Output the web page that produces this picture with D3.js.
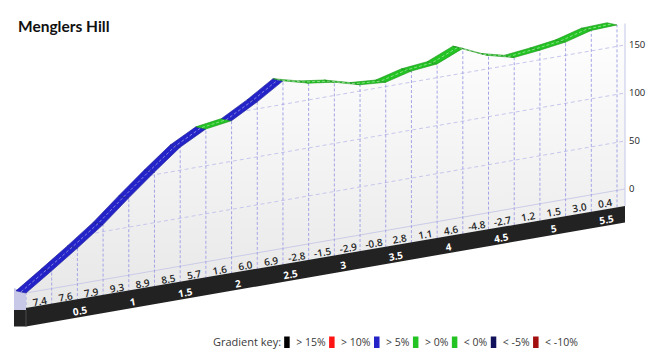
<!DOCTYPE html>
<html>
<head>
<meta charset="utf-8">
<script src="https://cdn.jsdelivr.net/npm/d3@7"></script>
<style>
  body { margin: 0; background: #fff; }
  svg { display: block; }
</style>
</head>
<body>
<svg id="chart" width="662" height="362"></svg>
<script>
// Menglers Hill climb profile: 250 m segments, gradient (%) per segment.
var segLength = 0.25;
var gradients = [7.4, 7.6, 7.9, 9.3, 8.9, 8.5, 5.7, 1.6, 6.0, 6.9, -2.8, -1.5,
                 -2.9, -0.8, 2.8, 1.1, 4.6, -4.8, -2.7, 1.2, 1.5, 3.0, 0.4];
// Elevation (m) at each segment boundary
var elevations = [0, 18.5, 37.5, 57.3, 80.5, 102.8, 124, 138.3, 142.3, 157.3, 174.5, 167.5,
                  163.8, 156.5, 154.5, 161.5, 164.3, 175.8, 163.8, 157, 160, 163.8, 171.3, 172.3];
var distTicks = [0.5, 1, 1.5, 2, 2.5, 3, 3.5, 4, 4.5, 5, 5.5];
var elevTicks = [0, 50, 100, 150];
var keyLabels = ["> 15%", "> 10%", "> 5%", "> 0%", "< 0%", "< -5%", "< -10%"];
var keyColors = ["#000000", "#ff1414", "#2323c8", "#22c322", "#22c322", "#12125c", "#a30f0f"];

var svg = d3.select("#chart");
var totalDist = gradients.length * segLength;

// The chart is drawn in a sheared "3D" view: the floor rises to the right.
var x = d3.scaleLinear().domain([0, totalDist]).range([26, 617]);
var xFront = d3.scaleLinear().domain([0, totalDist]).range([27.3, 632.8]);
var base = d3.scaleLinear().domain([26, 625]).range([293, 189]); // y of 0 m along the floor
var h = d3.scaleLinear().domain([0, 150]).range([0, 144]);
var wallRight = 625, stripH = 17, barH = 16.5;
var depth = [-10, -2.2];
var angle = Math.atan2(base(625) - base(26), 625 - 26) * 180 / Math.PI;

function colorOf(g) {
	if (g > 15) return keyColors[0];
	if (g > 10) return keyColors[1];
	if (g > 5) return keyColors[2];
	if (g >= 0) return keyColors[3];
	if (g > -5) return keyColors[4];
	if (g > -10) return keyColors[5];
	return keyColors[6];
}

function toPoints(arr) {
	return arr.map(function(p) { return p.join(","); }).join(" ");
}

// Profile points on the wall:
var pts = elevations.map(function(e, i) {
	var px = x(i * segLength);
	return [px, base(px) - h(e)];
});
var endElev = elevations[elevations.length - 1];

var defs = svg.append("defs");
var grad = defs.append("linearGradient")
	.attr("id", "wallFill")
	.attr("gradientUnits", "userSpaceOnUse")
	.attr("x1", 0).attr("y1", 20).attr("x2", 0).attr("y2", 320);
grad.append("stop").attr("offset", 0).attr("stop-color", "#ffffff");
grad.append("stop").attr("offset", 1).attr("stop-color", "#e6e6e6");

// Wall polygon (under the profile, down to the top of the black bar)
var wallPts = pts.slice();
wallPts.push([wallRight, base(wallRight) - h(endElev)]);
wallPts.push([wallRight, base(wallRight) + stripH]);
wallPts.push([26, base(26) + stripH]);

defs.append("clipPath").attr("id", "wallClip")
	.append("polygon")
	.attr("points", toPoints(wallPts));

svg.append("polygon")
	.attr("points", toPoints(wallPts))
	.attr("fill", "url(#wallFill)");

// Horizontal (skewed) elevation gridlines:
svg.append("g").attr("clip-path", "url(#wallClip)")
	.selectAll("line")
	.data(elevTicks.filter(function(d) { return d > 0; }))
	.enter().append("line")
	.attr("x1", 26).attr("y1", function(d) { return base(26) - h(d); })
	.attr("x2", wallRight).attr("y2", function(d) { return base(wallRight) - h(d); })
	.attr("stroke", "#c6c6ec")
	.attr("stroke-width", 1)
	.attr("stroke-dasharray", "4,3");

// Zero line = top of the gradient label strip
svg.append("line")
	.attr("x1", 26).attr("y1", base(26))
	.attr("x2", wallRight).attr("y2", base(wallRight))
	.attr("stroke", "#cbcbe8")
	.attr("stroke-width", 1);

// Vertical dashed lines at each segment boundary:
svg.selectAll("line.seg")
	.data(pts)
	.enter().append("line")
	.attr("class", "seg")
	.attr("x1", function(d) { return d[0]; })
	.attr("y1", function(d) { return base(d[0]) + stripH; })
	.attr("x2", function(d) { return d[0]; })
	.attr("y2", function(d) { return d[1]; })
	.attr("stroke", "#a4a4e6")
	.attr("stroke-width", 1)
	.attr("stroke-dasharray", "3,2");

// Right wall edge
svg.append("line")
	.attr("x1", wallRight).attr("y1", base(wallRight) - h(endElev))
	.attr("x2", wallRight).attr("y2", base(wallRight) + stripH)
	.attr("stroke", "#cfcfee")
	.attr("stroke-width", 1.2);

// Black distance bar (front face) with its left end:
var barPts = [
	[14, base(26) + stripH], [wallRight, base(wallRight) + stripH],
	[wallRight, base(wallRight) + stripH + barH], [26, base(26) + stripH + barH],
	[14, base(26) + stripH + barH]
];
svg.append("polygon")
	.attr("points", toPoints(barPts))
	.attr("fill", "#222222");

// Left end face of the strip
svg.append("polygon")
	.attr("points", toPoints([[14, base(26) - 5], [26, base(26)], [26, base(26) + stripH], [14, base(26) + stripH]]))
	.attr("fill", "#c7c7e7");
svg.append("line")
	.attr("x1", 26).attr("y1", base(26) + stripH)
	.attr("x2", 26).attr("y2", base(26) + stripH + barH)
	.attr("stroke", "#4a4a4a");

// The ribbon: one 3D band per segment, coloured by gradient
svg.selectAll("polygon.ribbon")
	.data(gradients)
	.enter().append("polygon")
	.attr("class", "ribbon")
	.attr("points", function(g, i) {
		var a = pts[i], b = pts[i + 1];
		return toPoints([a, b, [b[0] + depth[0], b[1] + depth[1]], [a[0] + depth[0], a[1] + depth[1]]]);
	})
	.attr("fill", function(g) { return colorOf(g); })
	.attr("stroke", function(g) { return d3.color(colorOf(g)).darker(0.8); })
	.attr("stroke-width", 0.6)
	.attr("stroke-linejoin", "round");

// Light dashed centre line along the ribbon
svg.append("path")
	.attr("d", d3.line()(pts.map(function(p) { return [p[0] + depth[0] / 2, p[1] + depth[1] / 2]; })))
	.attr("fill", "none")
	.attr("stroke", "rgba(255,255,255,0.45)")
	.attr("stroke-width", 1)
	.attr("stroke-dasharray", "3,2");

// Gradient labels in the strip:
svg.selectAll("text.grad")
	.data(gradients)
	.enter().append("text")
	.attr("class", "grad")
	.text(function(g) { return g.toFixed(1); })
	.attr("transform", function(g, i) {
		var cx = x((i + 0.5) * segLength) + 1;
		var cy = base(cx) + 11;
		return "translate(" + cx + "," + cy + ")rotate(" + angle + ")";
	})
	.attr("dy", "0.35em")
	.attr("text-anchor", "middle")
	.style("font-family", "'Open Sans', sans-serif")
	.style("font-weight", 600)
	.style("font-size", "10px")
	.attr("fill", "#262626");

// Distance labels in the black bar:
svg.selectAll("text.dist")
	.data(distTicks)
	.enter().append("text")
	.attr("class", "dist")
	.text(function(d) { return d; })
	.attr("transform", function(d) {
		var cx = xFront(d);
		var cy = base(cx) + 27.5;
		return "translate(" + cx + "," + cy + ")rotate(" + angle + ")";
	})
	.attr("dy", "0.35em")
	.attr("text-anchor", "middle")
	.style("font-family", "'Open Sans', sans-serif")
	.style("font-weight", 700)
	.style("font-size", "10px")
	.attr("fill", "#ffffff");

// Elevation axis labels on the right:
svg.selectAll("text.elev")
	.data(elevTicks)
	.enter().append("text")
	.attr("class", "elev")
	.text(function(d) { return d; })
	.attr("x", 629)
	.attr("y", function(d) { return base(wallRight) - h(d); })
	.attr("dy", "0.35em")
	.style("font-family", "'Open Sans', sans-serif")
	.style("font-size", "9.5px")
	.attr("fill", "#222");

// Title
svg.append("text")
	.text("Menglers Hill")
	.attr("x", 18).attr("y", 32)
	.style("font-family", "Lato, sans-serif")
	.style("font-weight", 700)
	.style("font-size", "15.5px")
	.attr("fill", "#111");

// Gradient key, laid out left to right
var legend = svg.append("g").attr("transform", "translate(213,346)");
var lx = 0;
var keyTitle = legend.append("text").text("Gradient key:")
	.attr("x", lx).attr("y", 0)
	.style("font-family", "'Open Sans', sans-serif")
	.style("font-size", "11px")
	.attr("fill", "#3a3a3a");
lx += keyTitle.node().getComputedTextLength() + 3;
keyLabels.forEach(function(label, i) {
	legend.append("rect")
		.attr("x", lx).attr("y", -9.5)
		.attr("width", 5.5).attr("height", 11.5)
		.attr("fill", keyColors[i]);
	lx += 5.5 + 6.5;
	var t = legend.append("text").text(label)
		.attr("x", lx).attr("y", 0)
		.style("font-family", "'Open Sans', sans-serif")
		.style("font-size", "10.5px")
		.attr("fill", "#3a3a3a");
	lx += t.node().getComputedTextLength() + 3.5;
});
</script>
</body>
</html>
